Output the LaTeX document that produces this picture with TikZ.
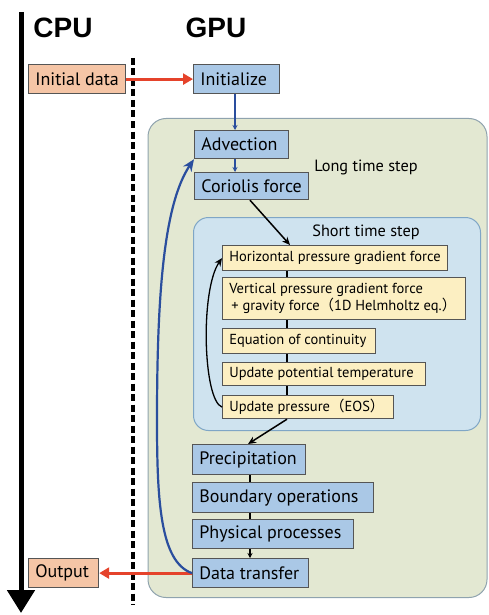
\documentclass[tikz,border=0pt]{standalone}
\usepackage{fontspec}
\setmainfont{PT Sans}
\newfontfamily\titlefont{Liberation Sans}
\newfontfamily\cjk{Noto Sans CJK JP}
\usetikzlibrary{arrows.meta}
\definecolor{gfill}{HTML}{E3E8D2}
\definecolor{gdraw}{HTML}{8FA3AE}
\definecolor{sfill}{HTML}{CFE3EF}
\definecolor{sdraw}{HTML}{7FA6C6}
\definecolor{bfill}{HTML}{AAC8E6}
\definecolor{yfill}{HTML}{FCEFC2}
\definecolor{ofill}{HTML}{F5C5A6}
\definecolor{bdr}{HTML}{555555}
\definecolor{redarr}{HTML}{E5432B}
\definecolor{bluearr}{HTML}{2A4E9E}
\newcommand{\lp}{{\cjk （}}
\newcommand{\rp}{{\cjk ）}}
\tikzset{
  bbox/.style={draw=bdr, line width=1.2pt, fill=bfill, anchor=north west, inner sep=0pt,
    font=\fontsize{18}{20}\selectfont, align=left},
  ybox/.style={draw=bdr, line width=1.2pt, fill=yfill, anchor=north west, inner sep=0pt,
    font=\fontsize{14.5}{17}\selectfont, align=left},
  obox/.style={draw=bdr, line width=1.2pt, fill=ofill, anchor=north west, inner sep=0pt,
    font=\fontsize{18}{20}\selectfont, align=left},
  redline/.style={draw=redarr, line width=3pt, -{Triangle[length=10pt,width=11pt]}},
  blueline/.style={draw=bluearr, line width=1.3pt, -{Stealth[length=5pt,width=5pt]}},
  blkarrow/.style={draw=black, line width=1.5pt, -{Stealth[length=8pt,width=7pt]}},
  blkline/.style={draw=black, line width=1.5pt},
  title/.style={font=\fontsize{28}{30}\selectfont\titlefont\bfseries},
  steplabel/.style={font=\fontsize{16.3}{18}\selectfont}
}
\newcommand{\boxnode}[7]{% style, name, x1, y1, x2, y2, text
  \node[#1, minimum width=#5pt-#3pt, minimum height=#6pt-#4pt] (#2) at (#3,#4)
    {\hspace*{6.5pt}\parbox[c]{\dimexpr #5pt-#3pt-7pt\relax}{\raggedright #7}};}
\begin{document}
\begin{tikzpicture}[x=1pt,y=-1pt]
\useasboundingbox (0,0) rectangle (488,615);
% regions
\node[draw=gdraw, line width=1pt, fill=gfill, rounded corners=18pt, anchor=north west,
  minimum width=339pt, minimum height=479pt, inner sep=0pt] (longreg) at (147.5,118) {};
\node[draw=sdraw, line width=1pt, fill=sfill, rounded corners=15pt, anchor=north west,
  minimum width=287pt, minimum height=213pt, inner sep=0pt] (shortreg) at (193,217) {};
% titles
\node[title] (cpu) at (63,28) {CPU};
\node[title] (gpu) at (216,28) {GPU};
\node[steplabel] (lts) at (366,167) {Long time step};
\node[steplabel] (sts) at (366,232) {Short time step};
% axes
\coordinate (cputop) at (21,12);
\coordinate (cpubot) at (21,613);
\draw[line width=5pt, -{Triangle[length=23pt,width=27pt]}] (cputop) -- (cpubot);
\coordinate (dtop) at (133,58);
\coordinate (dbot) at (133,605);
\draw[line width=4pt, dash pattern=on 7pt off 3.5pt] (dtop) -- (dbot);
% boxes
\boxnode{obox}{init}{28}{64}{125}{93}{Initial data}
\boxnode{bbox}{initz}{193}{64}{279}{93}{Initialize}
\boxnode{bbox}{adv}{194}{130}{288}{158}{Advection}
\boxnode{bbox}{cor}{194}{172}{308}{199}{Coriolis force}
\boxnode{ybox}{hpg}{222}{245}{447}{270}{Horizontal pressure gradient force}
\node[ybox, minimum width=243pt, minimum height=42pt] (vpg) at (222,277)
  {\hspace*{6.5pt}\parbox[c]{236pt}{\raggedright Vertical pressure gradient force\\
   \hspace*{2pt}+ gravity force\lp 1D Helmholtz eq.\rp}};
\boxnode{ybox}{eoc}{222}{328}{375}{353}{Equation of continuity}
\boxnode{ybox}{upt}{222}{362}{425}{385}{Update potential temperature}
\boxnode{ybox}{upp}{222}{395}{393}{418}{Update pressure\lp EOS\rp}
\boxnode{bbox}{prec}{192}{444}{305}{474}{Precipitation}
\boxnode{bbox}{bnd}{192}{482}{373}{512}{Boundary operations}
\boxnode{bbox}{phys}{192}{519}{353}{548}{Physical processes}
\boxnode{bbox}{dt}{192}{558}{308}{587}{Data transfer}
\boxnode{obox}{out}{28}{558}{98}{587}{Output}
% connectors
\draw[redline] (init.east) -- (initz.west);
\draw[redline] (dt.west) -- (out.east);
\draw[blueline] (initz.south -| 235,0) -- (adv.north -| 235,0);
\draw[blueline] (adv.south -| 235,0) -- (cor.north -| 235,0);
\draw[blkarrow] (cor.south -| 250,0) -- (hpg.north -| 290,0);
\draw[blkline] (hpg.south -| 287,0) -- (vpg.north -| 287,0);
\draw[blkline] (vpg.south -| 287,0) -- (eoc.north -| 287,0);
\draw[blkline] (eoc.south -| 287,0) -- (upt.north -| 287,0);
\draw[blkline] (upt.south -| 287,0) -- (upp.north -| 287,0);
\draw[blkarrow] (upp.south -| 287,0) -- (prec.north -| 248,0);
\draw[blkline] (prec.south -| 250,0) -- (bnd.north -| 250,0);
\draw[blkline] (bnd.south -| 250,0) -- (phys.north -| 250,0);
\draw[blkline, -{Stealth[length=5pt,width=5pt]}] (phys.south -| 250,0) -- (dt.north -| 250,0);
% loops
\draw[draw=bluearr, line width=2.2pt, -{Stealth[length=12pt,width=10pt]}]
  (dt.west) .. controls (160,562) and (157,500) .. (157,420)
  .. controls (157,300) and (163,205) .. (adv.south west);
\draw[line width=1.3pt, -{Stealth[length=8pt,width=7pt]}]
  (upp.west) .. controls (203,400) and (200,290) .. (hpg.west);
\end{tikzpicture}
\end{document}
